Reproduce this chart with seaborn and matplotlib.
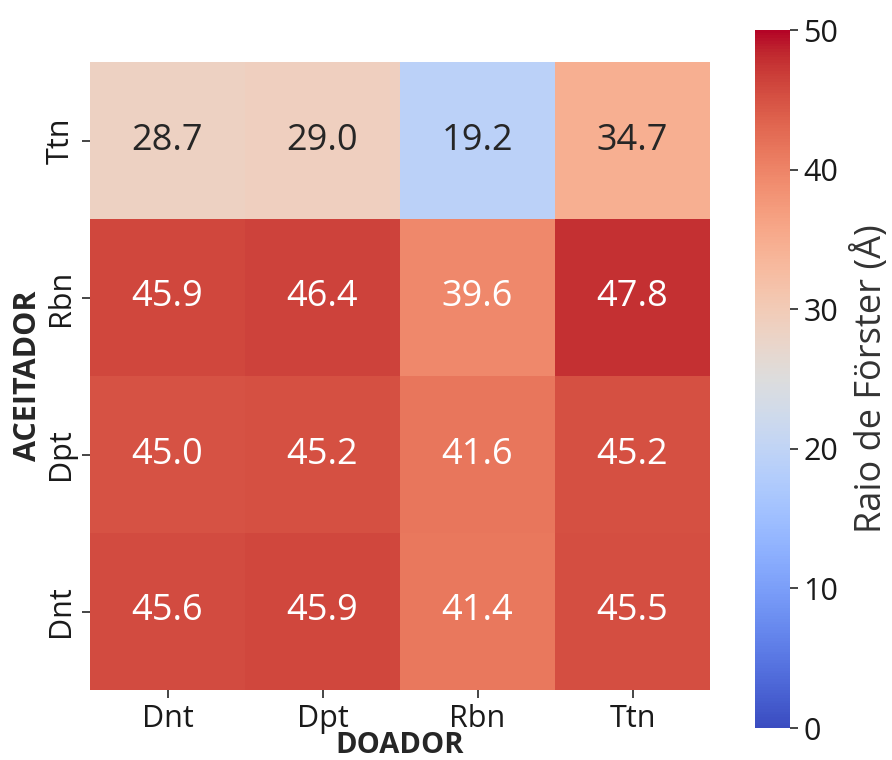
import numpy as np
import pandas as pd
import matplotlib
matplotlib.use('Agg')
import matplotlib.pyplot as plt
import seaborn as sns

# === DATA ===
doadores = ["Dnt", "Dpt", "Rbn", "Ttn"]
aceitadores = ["Dnt", "Dpt", "Rbn", "Ttn"]
raio_dnt = [45.6, 45.9, 41.4, 45.5]
raio_dpt = [45.0, 45.2, 41.6, 45.2]
raio_rbn = [45.9, 46.4, 39.6, 47.8]
raio_ttn = [28.7, 29.0, 19.2, 34.7]

sns.set_theme(style="white")
plt.rcParams['font.family'] = ['Open Sans', 'DejaVu Sans']

df = pd.DataFrame([raio_dnt, raio_dpt, raio_rbn, raio_ttn],
                  index=aceitadores, columns=doadores)

fig = plt.figure(figsize=(8.92, 7.6), dpi=100)
ax = fig.add_axes([90 / 892, 70 / 760, 620 / 892, 628 / 760])
cax = fig.add_axes([755 / 892, 32 / 760, 35 / 892, 698 / 760])

sns.heatmap(df, annot=True, fmt=".1f", cmap="coolwarm", vmin=0, vmax=50,
            ax=ax, cbar_ax=cax, annot_kws={"fontsize": 26},
            cbar_kws={"label": "Raio de Förster (Å)"})
ax.invert_yaxis()

ax.set_xlabel("DOADOR", fontsize=21, fontweight='bold', labelpad=-2)
ax.set_ylabel("ACEITADOR", fontsize=22, fontweight='bold', labelpad=2)
ax.tick_params(axis='both', labelsize=22, length=6, width=1.2, left=True, bottom=True,
               pad=4, labelcolor='#1a1a1a')
plt.setp(ax.get_yticklabels(), rotation=90, va='center')

cax.tick_params(labelsize=22, length=6, width=1.2, right=True, labelcolor='#1a1a1a')
cax.set_yticks([0, 10, 20, 30, 40, 50])
cax.set_ylabel("Raio de Förster (Å)", fontsize=26, color='#333333', labelpad=10)

fig.savefig("out.png", dpi=100)
plt.close(fig)
